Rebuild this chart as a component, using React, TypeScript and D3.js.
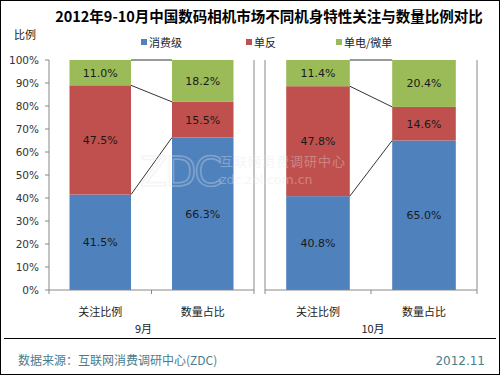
import * as d3 from "d3";

const W = 500;
const H = 375;

const months = ["9月", "10月"];
const categories = ["关注比例", "数量占比"];
const seriesNames = ["消费级", "单反", "单电/微单"];
const colors = ["#4F81BD", "#C0504D", "#9BBB59"];

// values per month: [category][series]
const sep = [
  [41.5, 47.5, 11.0],
  [66.3, 15.5, 18.2],
];
const oct = [
  [40.8, 47.8, 11.4],
  [65.0, 14.6, 20.4],
];
const monthData = [sep, oct];

const yTicks = [0, 10, 20, 30, 40, 50, 60, 70, 80, 90, 100];

const panels = [
  { x0: 49, x1: 254, monthDx: -8 },
  { x0: 265, x1: 477, monthDx: 2 },
];
const TOP = 60;
const BOTTOM = 290;

const FONT = "'DejaVu Sans', 'Noto Sans CJK SC', sans-serif";
const CJK = "'Noto Sans CJK SC', 'DejaVu Sans', sans-serif";

export default function App() {
  const y = d3.scaleLinear().domain([0, 100]).range([BOTTOM, TOP]);

  return (
    <svg
      width={W}
      height={H}
      style={{ position: "absolute", left: 0, top: 0, background: "white" }}
    >
      <rect x={0.5} y={0.5} width={W - 1} height={H - 1} fill="white" stroke="#000" />

      {/* title */}
      <text
        x={269}
        y={22}
        textAnchor="middle"
        fontFamily={CJK}
        fontWeight="bold"
        fontSize={14.5}
        fill="#000"
      >
        2012年9-10月中国数码相机市场不同机身特性关注与数量比例对比
      </text>
      <text x={14} y={39} fontFamily={CJK} fontSize={11} fill="#222">
        比例
      </text>

      {/* legend */}
      {seriesNames.map((s, i) => {
        const lx = [141, 246, 336][i];
        return (
          <g key={s}>
            <rect x={lx} y={39} width={6} height={6} fill={colors[i]} />
            <text x={lx + 8} y={47} fontFamily={CJK} fontSize={11} fill="#222">
              {s}
            </text>
          </g>
        );
      })}

      {/* y tick labels */}
      {yTicks.map((t) => (
        <text
          key={t}
          x={39}
          y={y(t) + 4}
          textAnchor="end"
          fontFamily={FONT}
          fontSize={10.5}
          fill="#333"
        >
          {t}%
        </text>
      ))}

      {panels.map((p, pi) => {
        const x = d3
          .scaleBand()
          .domain(categories)
          .range([p.x0, p.x1])
          .paddingInner(0.4)
          .paddingOuter(0.2);
        const data = monthData[pi];
        const stacks = data.map((vals) => {
          let acc = 0;
          return vals.map((v) => {
            const s = { y0: acc, y1: acc + v, v };
            acc += v;
            return s;
          });
        });
        const mid = (p.x0 + p.x1) / 2;
        return (
          <g key={pi}>
            {/* bars */}
            {stacks.map((st, ci) =>
              st.map((s, si) => (
                <rect
                  key={`${ci}-${si}`}
                  x={x(categories[ci])}
                  width={x.bandwidth()}
                  y={y(s.y1)}
                  height={y(s.y0) - y(s.y1)}
                  fill={colors[si]}
                />
              ))
            )}

            {/* connector lines */}
            {stacks[0].map((s, si) => (
              <line
                key={si}
                x1={(x(categories[0]) ?? 0) + x.bandwidth()}
                y1={y(Math.min(100, s.y1))}
                x2={x(categories[1])}
                y2={y(Math.min(100, stacks[1][si].y1))}
                stroke="#000"
                strokeWidth={0.8}
              />
            ))}

            {/* axes */}
            <line x1={p.x0} x2={p.x0} y1={TOP} y2={BOTTOM} stroke="#888" />
            <line x1={p.x1} x2={p.x1} y1={TOP} y2={BOTTOM} stroke="#888" />
            <line x1={p.x0} x2={p.x1} y1={BOTTOM} y2={BOTTOM} stroke="#888" />
            {pi === 0 &&
              yTicks.map((t) => (
                <line
                  key={t}
                  x1={p.x0 - 4}
                  x2={p.x0}
                  y1={y(t)}
                  y2={y(t)}
                  stroke="#888"
                />
              ))}
            {[p.x0, mid, p.x1].map((tx, i) => (
              <line key={i} x1={tx} x2={tx} y1={BOTTOM} y2={BOTTOM + 4} stroke="#888" />
            ))}

            {/* category labels */}
            {categories.map((c) => (
              <text
                key={c}
                x={(x(c) ?? 0) + x.bandwidth() / 2}
                y={316}
                textAnchor="middle"
                fontFamily={CJK}
                fontSize={11}
                fill="#222"
              >
                {c}
              </text>
            ))}
            <text
              x={mid + p.monthDx}
              y={333}
              textAnchor="middle"
              fontFamily={CJK}
              fontSize={11}
              fill="#222"
            >
              {months[pi]}
            </text>
          </g>
        );
      })}

      {/* watermark */}
      <g opacity={0.35} fill="none" stroke="#dfe5eb" strokeWidth={1.5}>
        <text x={140} y={186} fontFamily={FONT} fontSize={40} letterSpacing={-2}>
          ZDC
        </text>
      </g>
      <g opacity={0.35} fill="#dfe5eb">
        <text x={220} y={166} fontFamily={CJK} fontSize={13} letterSpacing={1}>
          互联网消费调研中心
        </text>
        <text x={220} y={184} fontFamily={FONT} fontSize={12.5}>
          zdc.zol.com.cn
        </text>
      </g>

      {/* value labels */}
      {panels.map((p, pi) => {
        const x = d3
          .scaleBand()
          .domain(categories)
          .range([p.x0, p.x1])
          .paddingInner(0.4)
          .paddingOuter(0.2);
        return monthData[pi].map((vals, ci) => {
          let acc = 0;
          return vals.map((v, si) => {
            const y0 = acc;
            acc += v;
            return (
              <text
                key={`${pi}-${ci}-${si}`}
                x={(x(categories[ci]) ?? 0) + x.bandwidth() / 2}
                y={(y(y0) + y(acc)) / 2 + 4}
                textAnchor="middle"
                fontFamily={FONT}
                fontSize={11}
                fill="#1a1a1a"
              >
                {v.toFixed(1)}%
              </text>
            );
          });
        });
      })}

      {/* footer */}
      <line x1={4} x2={496} y1={338.5} y2={338.5} stroke="#000" />
      <text x={18} y={365} fontFamily={CJK} fontSize={12} fill="#4A7C8C">
        数据来源：互联网消费调研中心(ZDC)
      </text>
      <text
        x={485}
        y={365}
        textAnchor="end"
        fontFamily={FONT}
        fontSize={12}
        fill="#4A7C8C"
      >
        2012.11
      </text>
    </svg>
  );
}
